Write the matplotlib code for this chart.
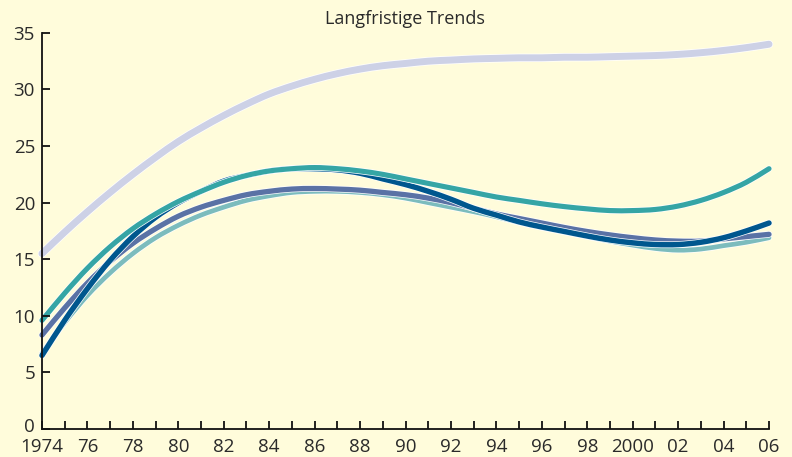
import matplotlib
matplotlib.use("Agg")
import matplotlib.pyplot as plt
import matplotlib.patheffects as pe
import matplotlib.transforms as mtrans
from matplotlib.path import Path
from matplotlib.patches import PathPatch
import numpy as np

years = np.arange(1974, 2007)

lavender = [15.5, 17.4, 19.2, 20.9, 22.5, 24.0, 25.4, 26.6, 27.7, 28.7, 29.6,
            30.3, 30.9, 31.4, 31.8, 32.1, 32.3, 32.5, 32.6, 32.7, 32.75, 32.8,
            32.8, 32.85, 32.85, 32.9, 32.95, 33.0, 33.1, 33.25, 33.45, 33.7, 34.0]
teal = [9.6, 12.0, 14.2, 16.1, 17.7, 19.0, 20.1, 21.0, 21.8, 22.4, 22.8,
        23.0, 23.1, 23.0, 22.8, 22.5, 22.1, 21.7, 21.3, 20.9, 20.5, 20.2,
        19.9, 19.65, 19.45, 19.3, 19.3, 19.4, 19.7, 20.2, 20.9, 21.8, 23.0]
dark_blue = [6.5, 9.6, 12.4, 14.9, 17.0, 18.7, 20.0, 21.0, 21.9, 22.4, 22.8,
             23.0, 23.0, 22.9, 22.6, 22.1, 21.6, 21.0, 20.3, 19.5, 18.9, 18.3,
             17.85, 17.45, 17.05, 16.7, 16.45, 16.3, 16.3, 16.5, 16.9, 17.5, 18.2]
slate = [8.3, 10.7, 12.9, 14.8, 16.4, 17.7, 18.8, 19.6, 20.2, 20.7, 21.0,
         21.2, 21.25, 21.2, 21.1, 20.9, 20.7, 20.4, 20.0, 19.5, 19.0, 18.6,
         18.2, 17.8, 17.45, 17.15, 16.9, 16.7, 16.6, 16.6, 16.8, 17.0, 17.2]
light_teal = [6.7, 9.4, 11.8, 13.8, 15.5, 16.9, 18.0, 18.9, 19.6, 20.2, 20.6,
              20.9, 21.0, 21.0, 20.9, 20.7, 20.4, 20.0, 19.6, 19.2, 18.75, 18.25,
              17.8, 17.4, 17.0, 16.6, 16.25, 15.95, 15.8, 15.9, 16.2, 16.5, 16.9]

tick_years = list(range(1974, 2007, 2))
tick_labels = ["1974", "76", "78", "80", "82", "84", "86", "88", "90", "92",
               "94", "96", "98", "2000", "02", "04", "06"]

bg = "#fffcdb"
plt.rcParams["font.family"] = ["Open Sans", "DejaVu Sans"]


def smooth_path(x, y):
    # Catmull-Rom through the points, drawn as cubic Bezier segments
    x = np.asarray(x, float)
    y = np.asarray(y, float)
    pts = np.column_stack([x, y])
    ext = np.vstack([2 * pts[0] - pts[1], pts, 2 * pts[-1] - pts[-2]])
    verts = [pts[0]]
    codes = [Path.MOVETO]
    for i in range(1, len(ext) - 2):
        p0, p1, p2, p3 = ext[i - 1], ext[i], ext[i + 1], ext[i + 2]
        verts += [p1 + (p2 - p0) / 6, p2 - (p3 - p1) / 6, p2]
        codes += [Path.CURVE4] * 3
    return Path(verts, codes)


fig = plt.figure(figsize=(7.92, 4.57), dpi=100, facecolor=bg)
ax = fig.add_axes([0.053, 0.0613, 0.918, 0.8667], facecolor=bg)

series = [
    (light_teal, "#7cbcbd", 3.4),
    (slate, "#5a72a5", 3.8),
    (dark_blue, "#00578e", 3.9),
    (teal, "#35a5a5", 3.7),
    (lavender, "#cdd1e6", 5.0),
]
for vals, col, lw in series:
    patch = PathPatch(smooth_path(years, vals), facecolor="none", edgecolor=col,
                      lw=lw, capstyle="round", clip_on=False,
                      path_effects=[pe.Stroke(linewidth=lw + 1.0, foreground="white"),
                                    pe.Normal()])
    ax.add_patch(patch)

ax.set_xlim(1974, 2006)
ax.set_ylim(0, 35)
ax.set_xticks(tick_years)
ax.set_xticklabels(tick_labels)
ax.set_xticks(range(1974, 2007), minor=True)
ax.set_yticks(range(0, 36, 5))

for s in ["top", "right"]:
    ax.spines[s].set_visible(False)
for s in ["left", "bottom"]:
    ax.spines[s].set_linewidth(1.3)
    ax.spines[s].set_color("#111111")

ax.tick_params(axis="both", which="both", direction="in", length=6, width=1.3,
               colors="#111111", labelcolor="#2a2a2a", labelsize=13.5)
ax.tick_params(axis="x", pad=6.5)
ax.tick_params(axis="y", pad=5)

# nudge the "0" up a little so it clears "1974"
zero_lbl = ax.get_yticklabels()[0]
zero_lbl.set_transform(zero_lbl.get_transform() +
                       mtrans.ScaledTranslation(0, 3 / 72, fig.dpi_scale_trans))

fig.text(0.511, 0.958, "Langfristige Trends", ha="center", va="center",
         fontsize=13, color="#2a2a2a")

fig.savefig("out.png", dpi=100, facecolor=bg)
